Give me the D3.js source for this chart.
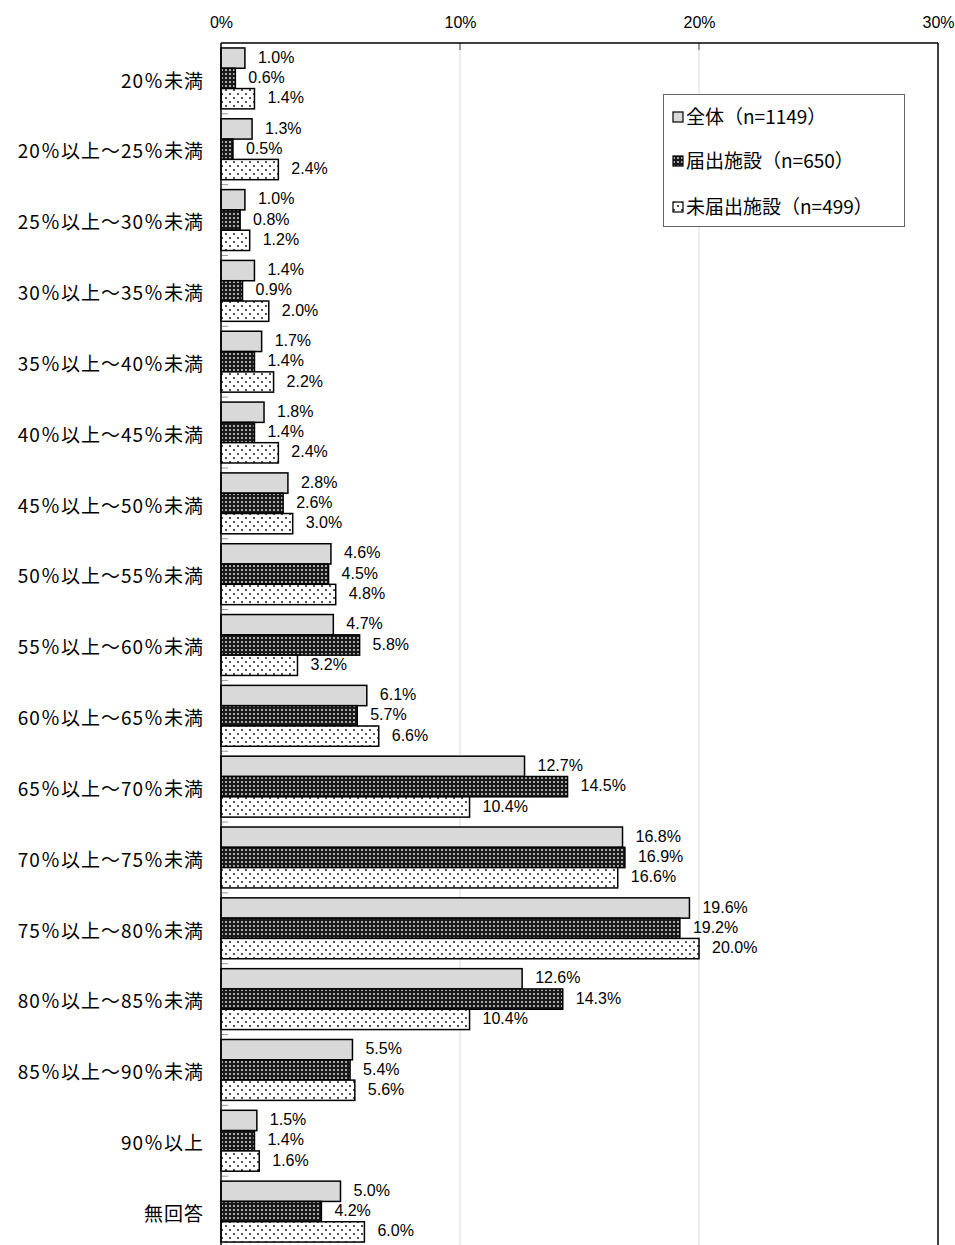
<!DOCTYPE html>
<html><head><meta charset="utf-8">
<script src="https://cdn.jsdelivr.net/npm/d3@7"></script>
<style>body{margin:0;background:#fff}svg{display:block}</style>
</head><body>
<script>
const categories = ["20％未満","20％以上～25％未満","25％以上～30％未満","30％以上～35％未満","35％以上～40％未満","40％以上～45％未満","45％以上～50％未満","50％以上～55％未満","55％以上～60％未満","60％以上～65％未満","65％以上～70％未満","70％以上～75％未満","75％以上～80％未満","80％以上～85％未満","85％以上～90％未満","90％以上","無回答"];
const seriesNames = ["全体（n=1149）","届出施設（n=650）","未届出施設（n=499）"];
const allValues = [1.0,1.3,1.0,1.4,1.7,1.8,2.8,4.6,4.7,6.1,12.7,16.8,19.6,12.6,5.5,1.5,5.0];
const notifiedValues = [0.6,0.5,0.8,0.9,1.4,1.4,2.6,4.5,5.8,5.7,14.5,16.9,19.2,14.3,5.4,1.4,4.2];
const unnotifiedValues = [1.4,2.4,1.2,2.0,2.2,2.4,3.0,4.8,3.2,6.6,10.4,16.6,20.0,10.4,5.6,1.6,6.0];
const xTicks = [0,10,20,30];

(function(){
const W=955,H=1245;
const svg=d3.select("body").append("svg").attr("width",W).attr("height",H);
const defs=svg.append("defs");
const p1=defs.append("pattern").attr("id","pDark").attr("patternUnits","userSpaceOnUse").attr("width",4).attr("height",4);
p1.append("rect").attr("width",4).attr("height",4).attr("fill","#1a1a1a");
p1.append("rect").attr("x",1).attr("y",1).attr("width",2).attr("height",2).attr("fill","#a8a8a8");
const p2=defs.append("pattern").attr("id","pDots").attr("patternUnits","userSpaceOnUse").attr("width",8).attr("height",8);
p2.append("rect").attr("width",8).attr("height",8).attr("fill","#fff");
p2.append("rect").attr("x",1).attr("y",1).attr("width",2).attr("height",2).attr("fill","#555");
p2.append("rect").attr("x",5).attr("y",5).attr("width",2).attr("height",2).attr("fill","#555");
const fills=["#d9d9d9","url(#pDark)","url(#pDots)"];

const pl=221,pr=938,pt=43,pb=1247;
const x=d3.scaleLinear().domain([0,30]).range([pl,pr]);
const y=d3.scaleBand().domain(categories).range([pt,pb]).paddingInner(0.14).paddingOuter(0.07);
const ySub=d3.scaleBand().domain([0,1,2]).range([0,y.bandwidth()]);
const step=y.step();

svg.append("g").selectAll("line").data(xTicks.filter(d=>d>0&&d<30)).join("line")
  .attr("x1",d=>x(d)).attr("x2",d=>x(d)).attr("y1",pt).attr("y2",H)
  .attr("stroke","#d9d9d9").attr("stroke-width",1);
svg.append("g").selectAll("line").data(xTicks.filter(d=>d>0&&d<30)).join("line")
  .attr("x1",d=>x(d)).attr("x2",d=>x(d)).attr("y1",pt).attr("y2",pt+7)
  .attr("stroke","#808080").attr("stroke-width",1.5);

const xAxis=d3.axisTop(x).tickValues(xTicks).tickFormat(d=>d+"%").tickSize(0).tickPadding(0);
const gx=svg.append("g").attr("transform",`translate(0,28)`).call(xAxis);
gx.select(".domain").remove();
gx.selectAll("text").attr("font-family","'Liberation Sans',Arial,sans-serif").attr("font-size",16).attr("fill","#000").attr("dy",0);

svg.append("line").attr("x1",pl).attr("x2",pr).attr("y1",pt).attr("y2",pt).attr("stroke","#000").attr("stroke-width",1.5);
svg.append("line").attr("x1",pr).attr("x2",pr).attr("y1",pt).attr("y2",H).attr("stroke","#000").attr("stroke-width",1.5);

const bounds=d3.range(1,categories.length).map(i=>pt+i*step);
svg.append("g").selectAll("line").data(bounds).join("line")
  .attr("x1",pl).attr("x2",pl+7).attr("y1",d=>d).attr("y2",d=>d)
  .attr("stroke","#999").attr("stroke-width",1);

const series=[allValues,notifiedValues,unnotifiedValues];
const g=svg.append("g");
categories.forEach((c,i)=>{
  series.forEach((vals,s)=>{
    const v=vals[i];
    const y0=y(c)+ySub(s);
    g.append("rect").attr("x",x(0)).attr("y",y0).attr("width",x(v)-x(0)).attr("height",ySub.bandwidth())
      .attr("fill",fills[s]).attr("stroke","#000").attr("stroke-width",1.5);
    g.append("text").attr("x",x(v)+13).attr("y",y0+ySub.bandwidth()/2-1).attr("dy","0.35em")
      .attr("font-family","'Liberation Sans',Arial,sans-serif").attr("font-size",16).attr("fill","#000")
      .text(v.toFixed(1)+"%");
  });
});

svg.append("line").attr("x1",pl).attr("x2",pl).attr("y1",pt).attr("y2",H).attr("stroke","#000").attr("stroke-width",1.5);

const yAxis=d3.axisLeft(y).tickSize(0).tickPadding(17);
const gy=svg.append("g").attr("transform",`translate(${pl},2)`).call(yAxis);
gy.select(".domain").remove();
gy.selectAll("text").attr("font-family","'Noto Sans CJK JP',sans-serif").attr("font-size",19).attr("letter-spacing","1px").attr("fill","#000").attr("dy","0.38em");

const lg=svg.append("g");
lg.append("rect").attr("x",663.5).attr("y",94.5).attr("width",241).attr("height",132).attr("fill","#fff").attr("stroke","#666").attr("stroke-width",1);
const rows=[117,161,207];
seriesNames.forEach((n,s)=>{
  lg.append("rect").attr("x",673).attr("y",rows[s]-5).attr("width",10).attr("height",10).attr("fill",fills[s]).attr("stroke","#000").attr("stroke-width",1.2);
  lg.append("text").attr("x",686).attr("y",rows[s]).attr("dy","0.36em").attr("font-family","'Noto Sans CJK JP',sans-serif").attr("font-size",19).attr("fill","#000").text(n);
});
})();
</script>
</body></html>
